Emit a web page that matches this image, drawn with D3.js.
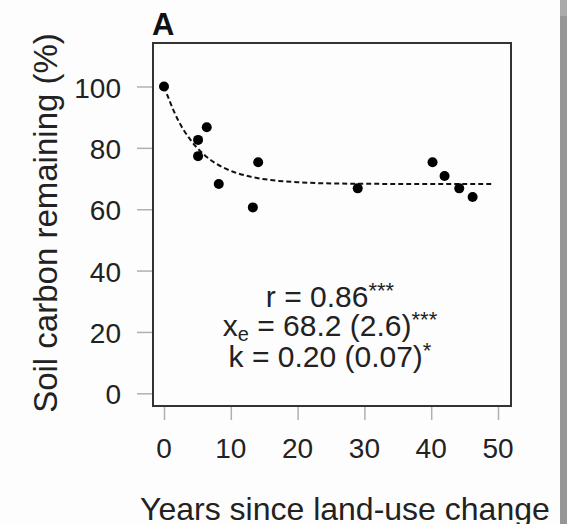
<!DOCTYPE html>
<html>
<head>
<meta charset="utf-8">
<title>Soil carbon remaining</title>
<script src="https://d3js.org/d3.v7.min.js"></script>
<style>
  body { margin: 0; background: #fdfdfd; }
  svg { display: block; font-family: "Liberation Sans", Arial, sans-serif; }
</style>
</head>
<body>
<svg width="567" height="524"></svg>
<script>
// observed points: years since land-use change, soil carbon remaining (%)
var years = [0, 5.1, 6.4, 5.1, 8.2, 13.3, 14.1, 29.0, 40.2, 42.0, 44.2, 46.2];
var carbon = [100, 82.6, 86.7, 77.3, 68.2, 60.6, 75.3, 66.8, 75.3, 70.8, 66.8, 64.0];

// fitted curve
var fitYears = [0, 2, 4, 6, 8, 10, 13, 16, 20, 25, 30, 40, 49.3];
var fitCarbon = [100, 89.5, 82.5, 77.8, 74.6, 72.5, 70.6, 69.5, 68.8, 68.4, 68.3, 68.2, 68.2];

var xTicks = [0, 10, 20, 30, 40, 50];
var yTicks = [0, 20, 40, 60, 80, 100];

var svg = d3.select("svg");

// grey strip on the right edge
svg.append("rect").attr("x", 560).attr("y", 0).attr("width", 7).attr("height", 524).attr("fill", "#969696");
svg.append("rect").attr("x", 560).attr("y", 0).attr("width", 7).attr("height", 16).attr("fill", "#aaaaaa");

var box = {left: 153, right: 511, top: 43, bottom: 406};

var x = d3.scaleLinear().domain([0, 50]).range([164, 498]);
var y = d3.scaleLinear().domain([0, 100]).range([393.3, 86.5]);

// axes (ticks only, labels drawn separately)
var xAxis = svg.append("g").attr("transform", "translate(0," + (box.bottom + 1) + ")")
  .call(d3.axisBottom(x).tickValues(xTicks).tickSize(13).tickFormat(""));
var yAxis = svg.append("g").attr("transform", "translate(" + (box.left - 1) + ",0)")
  .call(d3.axisLeft(y).tickValues(yTicks).tickSize(15).tickFormat(""));
[xAxis, yAxis].forEach(function(a) {
  a.select(".domain").remove();
  a.selectAll(".tick line").attr("stroke", "#b0b0b0").attr("stroke-width", 1.5);
});

svg.selectAll(".xlab").data(xTicks).enter().append("text")
  .attr("class", "xlab")
  .attr("x", d => x(d)).attr("y", 458)
  .attr("text-anchor", "middle").attr("font-size", 28).attr("fill", "#222")
  .text(d => d);

svg.selectAll(".ylab").data(yTicks).enter().append("text")
  .attr("class", "ylab")
  .attr("x", 121).attr("y", d => y(d) + 11)
  .attr("text-anchor", "end").attr("font-size", 28).attr("fill", "#222")
  .text(d => d);

// plot box
svg.append("rect")
  .attr("x", box.left).attr("y", box.top)
  .attr("width", box.right - box.left).attr("height", box.bottom - box.top)
  .attr("fill", "none").attr("stroke", "#333").attr("stroke-width", 2);

// fitted dashed curve
var fit = fitYears.map((d, i) => [d, fitCarbon[i]]);
svg.append("path")
  .datum(fit)
  .attr("d", d3.line().x(d => x(d[0])).y(d => y(d[1])).curve(d3.curveMonotoneX))
  .attr("fill", "none").attr("stroke", "#111").attr("stroke-width", 2)
  .attr("stroke-dasharray", "5,3");

// points
svg.selectAll("circle").data(years).enter().append("circle")
  .attr("cx", d => x(d)).attr("cy", (d, i) => y(carbon[i]))
  .attr("r", 5).attr("fill", "#000");

// panel letter
svg.append("text").attr("x", 152).attr("y", 35)
  .attr("font-size", 31).attr("font-weight", "bold").attr("fill", "#111").text("A");

// statistics annotation
var ann = svg.append("g").attr("font-size", 30).attr("fill", "#222").attr("text-anchor", "middle");
var t1 = ann.append("text").attr("x", 330).attr("y", 307);
t1.append("tspan").text("r = 0.86");
t1.append("tspan").attr("dy", -9).attr("font-size", 22).text("***");

var t2 = ann.append("text").attr("x", 330).attr("y", 336);
t2.append("tspan").text("x");
t2.append("tspan").attr("dy", 5).attr("font-size", 20).text("e");
t2.append("tspan").attr("dy", -5).text(" = 68.2 (2.6)");
t2.append("tspan").attr("dy", -9).attr("font-size", 22).text("***");

var t3 = ann.append("text").attr("x", 330).attr("y", 367);
t3.append("tspan").text("k = 0.20 (0.07)");
t3.append("tspan").attr("dy", -9).attr("font-size", 22).text("*");

// axis titles
svg.append("text").attr("x", 140).attr("y", 520)
  .attr("font-size", 32).attr("fill", "#222").text("Years since land-use change");

svg.append("text")
  .attr("transform", "translate(57,223) rotate(-90)")
  .attr("text-anchor", "middle")
  .attr("font-size", 33).attr("fill", "#222").text("Soil carbon remaining (%)");
</script>
</body>
</html>
